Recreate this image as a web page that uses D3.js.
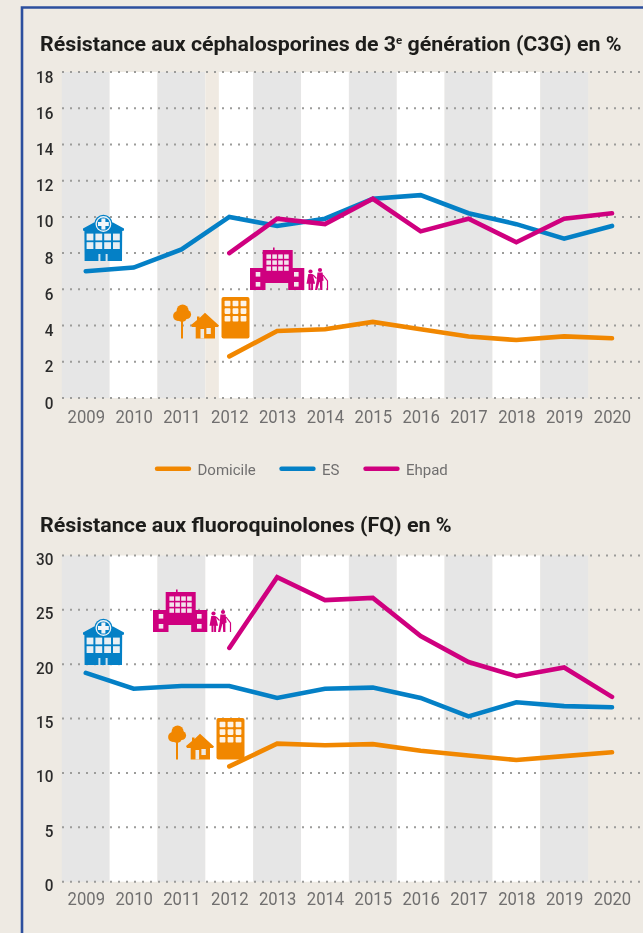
<!DOCTYPE html>
<html lang="fr">
<head>
<meta charset="utf-8">
<title>Résistance C3G et FQ</title>
<script src="https://cdn.jsdelivr.net/npm/d3@7"></script>
<style>
html,body{margin:0;padding:0;background:#eeeae3;overflow:hidden}
svg{display:block;filter:blur(.3px)}
text{font-family:Roboto,"Open Sans",sans-serif}
</style>
</head>
<body>
<svg id="chart" width="643" height="933"></svg>
<script>
const years = [2009,2010,2011,2012,2013,2014,2015,2016,2017,2018,2019,2020];

const c3gDomicile = [null,null,null,2.3,3.7,3.8,4.2,3.8,3.4,3.2,3.4,3.3];
const c3gES       = [7.0,7.2,8.2,10.0,9.5,9.9,11.0,11.2,10.2,9.6,8.8,9.5];
const c3gEhpad    = [null,null,null,8.0,9.9,9.6,11.0,9.2,9.9,8.6,9.9,10.2];
const c3gTicks    = [0,2,4,6,8,10,12,14,16,18];

const fqDomicile = [null,null,null,10.6,12.7,12.55,12.65,12.05,11.6,11.2,11.55,11.9];
const fqES       = [19.2,17.75,18.0,18.0,16.9,17.75,17.85,16.9,15.2,16.5,16.15,16.05];
const fqEhpad    = [null,null,null,21.5,28.0,25.9,26.1,22.6,20.2,18.9,19.7,17.0];
const fqTicks    = [0,5,10,15,20,25,30];

const seriesNames = ["Domicile","ES","Ehpad"];
const seriesColors = ["#f18700","#0480c6","#cf007f"];
const titleC3G = ["Résistance aux céphalosporines de 3","e"," génération (C3G) en %"];
const titleFQ = ["Résistance aux fluoroquinolones (FQ) en %"];

const BG="#eeeae3", GREY="#e6e6e6", AXIS="#706f6f", DARK="#2b2b2b";
const svg = d3.select("#chart");

// outer frame
svg.append("path").attr("d","M22 933V7.5H643").attr("fill","none").attr("stroke","#2c4f9e").attr("stroke-width",2.6);

const x = d3.scaleLinear().domain([2009,2020]).range([85.8,612]);
const band = d3.scaleBand().domain(years).range([61.8,636]).padding(0);

function fit(sel,w,anchorX){
  const bb = sel.node().getBBox();
  const k = w/bb.width;
  sel.attr("transform",`translate(${anchorX},0) scale(${k},1)`);
}

function hospital(g,c){
  g.append("path").attr("fill",c).attr("d","M0 13.5 L11 7.5 H30 L41 13.5 V15.5 L39.2 16 L39 46 H1.6 L1.4 16 L0 15.5Z");
  g.append("circle").attr("cx",20.4).attr("cy",9).attr("r",9.2).attr("fill",c);
  g.append("circle").attr("cx",20.4).attr("cy",9).attr("r",7.9).attr("fill","#eef4f8");
  g.append("circle").attr("cx",20.4).attr("cy",9).attr("r",6.6).attr("fill",c);
  g.append("path").attr("fill","#f2f6f9").attr("d","M18.4 3.6h4v3.4h3.4v4h-3.4v3.4h-4v-3.4h-3.4v-4h3.4z");
  for(let r=0;r<2;r++) for(let k=0;k<4;k++)
    g.append("rect").attr("x",3.6+k*8.8).attr("y",18.6+r*8.6).attr("width",6.8).attr("height",6.8).attr("fill","#e9eff3");
  g.append("rect").attr("x",15.4).attr("y",39).attr("width",2).attr("height",7).attr("fill","#cfe3f0");
  g.append("rect").attr("x",22.6).attr("y",39).attr("width",2).attr("height",7).attr("fill","#cfe3f0");
}
function person(g,c,px,h,dress){
  const top=22-h;
  g.append("circle").attr("cx",px).attr("cy",top+2).attr("r",2.1).attr("fill",c);
  if(dress) g.append("path").attr("fill",c).attr("d",`M${px-2.2} ${top+4.6}h4.4l2.4 9.6h-2v${h-14.2}h-2v-${h-14.2}h-.6v${h-14.2}h-2v-${h-14.2}h-2z`);
  else g.append("path").attr("fill",c).attr("d",`M${px-2.6} ${top+4.6}h5.2l1 8-1.2.4v${h-13}h-2.2l-.4-8-.4 0-2.2 8h-2.2l1.8-10z`);
}
function ehpad(g,c,bg){
  g.append("path").attr("fill",c).attr("d","M12.7 3H23V.4h1.6V3H42.7V21H54.3V43H38.2V36H15.5V43H0V21H12.7Z");
  for(let r=0;r<3;r++) for(let k=0;k<4;k++)
    g.append("rect").attr("x",16.4+k*5.9).attr("y",7.4+r*6).attr("width",4.6).attr("height",4.4).attr("fill","#f2e3ec");
  [[5.7,25],[5.7,35],[44,25],[44,35]].forEach(p=>
    g.append("rect").attr("x",p[0]).attr("y",p[1]).attr("width",4.6).attr("height",4.6).attr("fill","#f5e6ee"));
  const ppl=g.append("g").attr("transform","translate(56,21)");
  person(ppl,c,4.5,20.5,true);
  person(ppl,c,14,22,false);
  ppl.append("path").attr("d","M7 7L10.5 10.5M17 7L21.5 13V22").attr("fill","none").attr("stroke",c).attr("stroke-width",1.2);
}
function home(g,c){
  g.append("circle").attr("cx",9.6).attr("cy",13.5).attr("r",6).attr("fill",c);
  g.append("circle").attr("cx",5).attr("cy",19).attr("r",4.9).attr("fill",c);
  g.append("circle").attr("cx",13.5).attr("cy",17.5).attr("r",4.6).attr("fill",c);
  g.append("circle").attr("cx",9).attr("cy",19.5).attr("r",5.2).attr("fill",c);
  g.append("rect").attr("x",8).attr("y",22).attr("width",2).attr("height",19.5).attr("fill",c);
  g.append("path").attr("fill",c).attr("d","M18 28L24 23V19.5H26.5V21L32 15.7L46 28.5L45 30H42V41.5H22.7V30H19Z");
  g.append("rect").attr("x",27.5).attr("y",32).attr("width",3.6).attr("height",9.5).attr("fill",BG);
  g.append("rect").attr("x",33.4).attr("y",31).attr("width",4.4).attr("height",6).attr("fill",BG);
  g.append("rect").attr("x",48.5).attr("y",0).attr("width",28).attr("height",41.5).attr("rx",2).attr("fill",c);
  for(let r=0;r<3;r++) for(let k=0;k<3;k++)
    g.append("rect").attr("x",51.6+k*8).attr("y",3.7+r*7.6).attr("width",5.8).attr("height",5.6).attr("rx",.8).attr("fill","#fdf3e6");
}

function panel(o){
  const y = d3.scaleLinear().domain([0,o.max]).range([o.bottom,o.top]);
  const g = svg.append("g");

  // title
  const t = g.append("text").attr("y",o.titleY).attr("font-size",20.5).attr("font-weight",700).attr("fill","#1d1d1b");
  o.title.forEach((s,i)=>{
    const sp=t.append("tspan").text(s);
    if(i===1) sp.attr("font-size",11).attr("dy",-7);
    if(i===2) sp.attr("dy",7);
  });
  fit(t,o.titleW,40);

  // alternating bands
  g.append("g").selectAll("rect").data(years.slice(0,11)).join("rect")
    .attr("x",d=>band(d)).attr("width",band.bandwidth())
    .attr("y",o.top).attr("height",o.bottom-o.top)
    .attr("fill",(d,i)=>i%2===0?GREY:"#fff");
  if(o.strip) g.append("rect").attr("x",band(2012)).attr("width",o.strip)
    .attr("y",o.top).attr("height",o.bottom-o.top).attr("fill","#f0eae2");

  // dotted gridlines
  g.append("g").selectAll("line").data(o.ticks).join("line")
    .attr("x1",62).attr("x2",640).attr("y1",d=>y(d)).attr("y2",d=>y(d))
    .attr("stroke","#9c9c9a").attr("stroke-width",2).attr("stroke-dasharray","2 6");

  // y axis
  const ya = g.append("g").attr("transform","translate(53.5,0)")
    .call(d3.axisLeft(y).tickValues(o.ticks).tickSize(0).tickPadding(0));
  ya.select(".domain").remove();
  ya.selectAll("text").attr("font-size",17).attr("font-weight",500).attr("fill",DARK)
    .attr("dy",null).attr("x",0).attr("y",o.yDy).attr("transform","scale(.9,1)");

  // x axis
  const xa = g.append("g").attr("transform",`translate(0,${o.bottom})`)
    .call(d3.axisBottom(x).tickValues(years).tickFormat(d3.format("d")).tickSize(0).tickPadding(0));
  xa.select(".domain").remove();
  xa.selectAll("text").attr("font-size",18.5).attr("fill",AXIS).attr("dy",null).attr("y",o.xDy)
    .attr("transform","scale(.9,1)");

  // lines
  const line = d3.line().defined(d=>d.v!==null).x(d=>x(d.yr)).y(d=>y(d.v));
  o.series.forEach((vals,i)=>{
    g.append("path").attr("d",line(vals.map((v,k)=>({yr:years[k],v}))))
      .attr("fill","none").attr("stroke",seriesColors[i]).attr("stroke-width",4.6)
      .attr("stroke-linecap","round").attr("stroke-linejoin","miter");
  });

  // icons
  hospital(g.append("g").attr("transform",`translate(${o.hosp})`),seriesColors[1]);
  ehpad(g.append("g").attr("transform",`translate(${o.ehp})`),seriesColors[2]);
  home(g.append("g").attr("transform",`translate(${o.hom})`),seriesColors[0]);
}

panel({title:titleC3G,titleY:51,titleW:582,max:18,top:72,bottom:398,ticks:c3gTicks,
  yDy:10,xDy:25,strip:13.5,series:[c3gDomicile,c3gES,c3gEhpad],
  hosp:[83,215],ehp:[250,247],hom:[173,297]});
panel({title:titleFQ,titleY:532,titleW:412,max:30,top:555.5,bottom:881.7,ticks:fqTicks,
  yDy:9,xDy:23.5,strip:0,series:[fqDomicile,fqES,fqEhpad],
  hosp:[83,619],ehp:[153,589],hom:[168,718]});

// legend
const lgX = d3.scaleOrdinal().domain(seriesNames).range([157,281.5,365.5]);
const lg = svg.append("g").selectAll("g").data(seriesNames).join("g")
  .attr("transform",d=>`translate(${lgX(d)},468.7)`);
lg.append("line").attr("x2",32).attr("stroke",(d,i)=>seriesColors[i]).attr("stroke-width",4.4).attr("stroke-linecap","round");
lg.append("text").attr("x",40.5).attr("y",6.5).attr("font-size",15).attr("fill",AXIS).text(d=>d);
</script>
</body>
</html>
